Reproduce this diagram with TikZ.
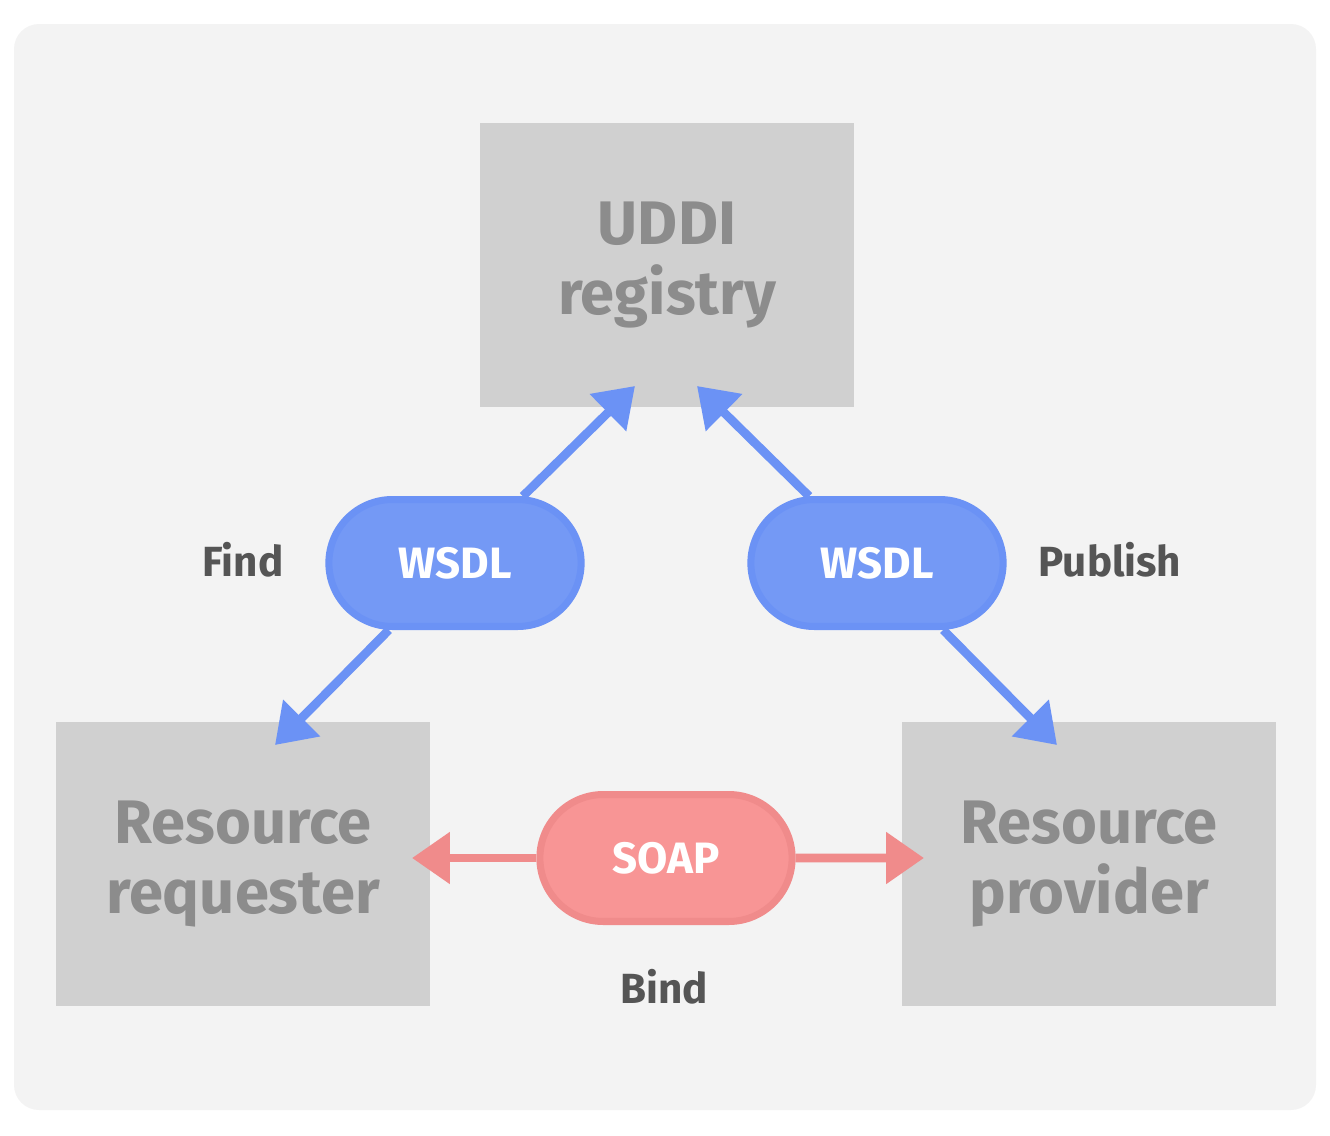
\documentclass[tikz,border=0pt]{standalone}
\usepackage{fontspec}
\setmainfont{Fira Sans}
\usetikzlibrary{shapes.misc, arrows.meta}
\definecolor{panelgray}{RGB}{243,243,243}
\definecolor{boxgray}{RGB}{208,208,208}
\definecolor{boxtext}{RGB}{140,140,140}
\definecolor{tagtext}{RGB}{85,85,85}
\definecolor{wsdlfill}{RGB}{116,153,245}
\definecolor{wsdlline}{RGB}{107,146,245}
\definecolor{soapfill}{RGB}{248,149,149}
\definecolor{soapline}{RGB}{240,139,139}
\tikzstyle{actor} = [rectangle, minimum width=7.48cm, minimum height=5.68cm,
                     align=center, fill=boxgray, text=boxtext,
                     font=\fontsize{35}{40}\selectfont\bfseries]
\tikzstyle{pill}  = [rounded rectangle, minimum width=5.28cm,
                     minimum height=2.54cm, line width=4pt, text=white,
                     font=\fontsize{25}{30}\selectfont\bfseries]
\tikzstyle{wsdl}  = [pill, draw=wsdlline, fill=wsdlfill]
\tikzstyle{soap}  = [pill, draw=soapline, fill=soapfill]
\tikzstyle{tag}   = [text=tagtext, font=\fontsize{24}{28}\selectfont\bfseries]
\tikzstyle{arrow} = [line width=5pt, -{Triangle[length=0.76cm, width=1cm]}]

\begin{document}
\begin{tikzpicture}[x=0.02cm, y=-0.02cm]
\useasboundingbox (0,0) rectangle (1330,1136);
\fill [panelgray, rounded corners=0.5cm] (14,24) rectangle (1316,1110);

% boxes
\node (udd) [actor] at (667,265)  {UDDI\\registry};
\node (req) [actor] at (243,864)  {Resource\\requester};
\node (pro) [actor] at (1089,864) {Resource\\provider};

% pills
\node (wsf) [wsdl] at (455,563) {WSDL};
\node (wsp) [wsdl] at (877,563) {WSDL};
\node (sop) [soap] at (666,858) {SOAP};

\node (fin) [tag] at (243,560)  {Find};
\node (pub) [tag] at (1110,560) {Publish};
\node (bin) [tag] at (664,987)  {Bind};

% arrow tips
\coordinate (fup) at (635,386);
\coordinate (fdn) at (275,745);
\coordinate (pup) at (697,386);
\coordinate (pdn) at (1057,745);
\coordinate (blf) at (412,858);
\coordinate (brt) at (924,858);

\draw [arrow, wsdlline] (wsf) -- (fup);
\draw [arrow, wsdlline] (wsf) -- (fdn);
\draw [arrow, wsdlline] (wsp) -- (pup);
\draw [arrow, wsdlline] (wsp) -- (pdn);
\draw [arrow, soapline] (sop) -- (blf);
\draw [arrow, soapline] (sop) -- (brt);
\end{tikzpicture}
\end{document}
